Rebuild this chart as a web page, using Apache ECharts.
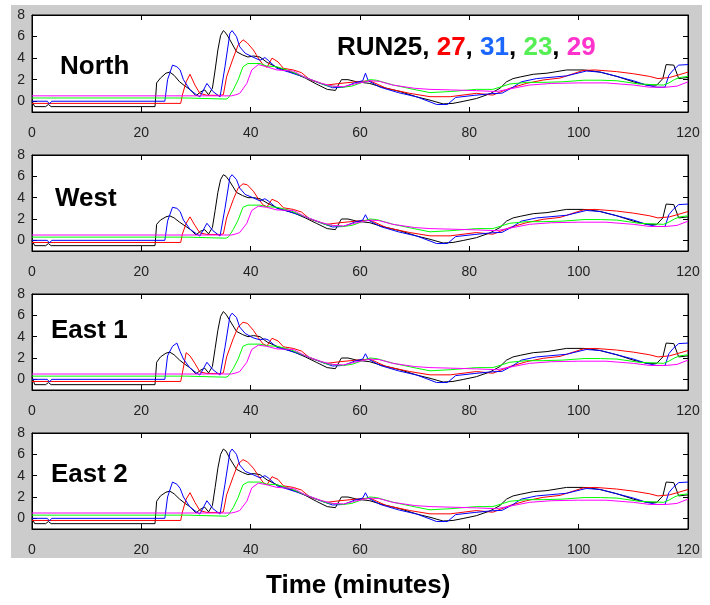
<!DOCTYPE html>
<html>
<head>
<meta charset="utf-8">
<script src="https://cdn.jsdelivr.net/npm/echarts@6/dist/echarts.min.js"></script>
<style>
  html, body { margin: 0; padding: 0; background: #fff; }
  #bg { position: absolute; left: 11px; top: 5px; width: 691px; height: 553px; background: #cccccc; }
  #chart { position: absolute; left: 0; top: 0; width: 710px; height: 605px; }
</style>
</head>
<body>
<div id="bg"></div>
<div id="chart"></div>
<script>
// run order: RUN25 (black), 27 (red), 31 (blue), 23 (green), 29 (magenta)
var runNames = ['RUN25', '27', '31', '23', '29'];
var lineColors = ['#000000', '#ff0000', '#0000ff', '#00ff00', '#ff00ff'];
var textColors = ['#000000', '#ff0000', '#1a66ff', '#55ee55', '#ff33cc'];
var panelNames = ['North', 'West', 'East 1', 'East 2'];
var yTicks = [0, 2, 4, 6, 8];

// time (minutes) of the sampled points, one list per run
var tBlack = [0, 0.5, 2.5, 3, 3.5, 22.5, 22.8, 23.5, 24.5, 25.2, 26, 27, 28, 29, 30, 30.8, 31.6, 32.3, 33, 33.5,
  34, 34.5, 35, 35.5, 36.2, 37.4, 38.5, 39.5, 40.5, 41.7, 43, 45, 48, 50, 52, 54, 55.5, 56.6, 57.8, 59.4,
  61.8, 63.7, 67.3, 70.4, 72.8, 75.2, 77, 79, 81.3, 83.8, 85.6, 86.8, 88, 89.3, 91.7, 94.2, 97.8, 100.8, 102, 103.9,
  107, 110, 112.4, 114.3, 115.4, 116, 117.4, 118.3, 120];
var tRed = [0, 27.2, 27.5, 28.2, 28.9, 29.8, 30.7, 32, 34.5, 35, 35.6, 36.8, 37.7, 38.6, 39.4, 40.5, 41.4, 42.3, 43, 43.9,
  45, 46, 47.8, 49.3, 50.9, 53.9, 56.3, 59.3, 61.8, 64.8, 69.1, 72.8, 76.5, 81.3, 84.3, 87.4, 90.5, 93.5, 96.6, 100.8,
  103, 106.9, 110, 113, 114.5, 116.6, 118, 120];
var tBlue = [0, 0.5, 2.8, 3.2, 3.6, 24.3, 24.8, 25.7, 26.5, 27.1, 27.7, 28.9, 30.1, 30.7, 32, 33.1, 34.4, 35.3, 36.2, 36.6,
  37.4, 38, 39, 40.4, 41.7, 42.6, 43.2, 44.8, 47, 50, 53, 55, 57, 59, 60.5, 61, 61.5, 63.7, 67, 70.4,
  73, 74, 76, 77.5, 81, 84, 86, 88, 89.5, 92.3, 97.8, 101.4, 104, 107, 110, 112.4, 114.3, 115.8, 116.5, 117.3,
  118.3, 120];
var tGreen = [0, 28.3, 28.4, 35.5, 35.9, 36.8, 37.7, 38.6, 39.5, 41.7, 42.9, 44.8, 47.2, 50, 53.9, 56.9, 58.5, 61.8, 63, 66.1,
  70.4, 72.8, 76.5, 81.3, 84.3, 87.4, 90.5, 93.5, 97, 101, 104, 107, 111, 115.5, 116.5, 117.5, 118.5, 120];
var tMagenta = [0, 35, 36.5, 37.3, 38, 39.3, 40.2, 41.4, 42.9, 44.8, 47.8, 50, 53, 55, 57, 59, 61.8, 63.5, 66, 70,
  72.8, 76.5, 81.3, 85, 88, 91, 95, 100, 105, 110, 113, 116, 118, 120];

// North
var northBlack = [0, -0.5, -0.5, -0.3, -0.5, -0.5, 1.7, 2.15, 2.6, 2.7, 2.4, 1.8, 1.4, 1.05, 0.5, 0.85, 1.05, 0.6, 1.2, 2.9,
  4.75, 6.1, 6.55, 6.3, 5.7, 4.6, 4.3, 4.1, 4.2, 4.1, 3.6, 3.1, 2.6, 2.15, 1.6, 1.1, 1.0, 2.0, 2.0, 1.8,
  1.65, 1.35, 0.9, 0.4, 0.1, -0.25, -0.2, 0.0, 0.25, 0.7, 1.2, 1.8, 2.1, 2.25, 2.5, 2.6, 2.9, 2.9, 2.85, 2.7,
  2.3, 1.8, 1.5, 1.5, 2.1, 3.4, 3.35, 2.1, 2.2];
var northRed = [-0.2, -0.2, 0.57, 1.8, 2.5, 1.5, 0.73, 0.55, 0.55, 0.6, 2.27, 4.0, 5.2, 5.7, 5.4, 4.75, 4.0, 3.35, 3.15, 4.0,
  3.65, 3.05, 2.9, 2.65, 1.97, 1.5, 1.65, 1.8, 1.9, 1.2, 0.73, 0.42, 0.42, 0.73, 0.57, 1.2, 1.66, 1.97, 2.15, 2.85,
  2.9, 2.75, 2.55, 2.3, 2.1, 2.2, 2.4, 2.7];
var northBlue = [0, 0, 0, -0.25, 0, 0, 2.0, 3.35, 3.2, 2.9, 2.0, 1.05, 0.6, 0.4, 1.65, 0.9, 0.4, 3.2, 6.3, 6.55,
  6.0, 5.05, 4.45, 4.1, 3.8, 4.05, 3.8, 3.05, 2.7, 2.2, 1.6, 1.25, 1.3, 1.7, 1.9, 2.6, 1.9, 1.3, 0.8, 0.4,
  -0.1, -0.3, -0.3, 0.35, 0.55, 0.7, 0.75, 1.3, 1.8, 2.1, 2.35, 2.8, 2.7, 2.3, 1.9, 1.5, 1.3, 1.3, 2.4, 2.9,
  3.35, 3.4];
var northGreen = [0.3, 0.3, 0.2, 0.2, 0.3, 1.04, 1.97, 3.2, 3.5, 3.5, 3.27, 3.2, 2.8, 2.2, 1.45, 1.3, 1.4, 2.0, 1.95, 1.5,
  1.04, 0.8, 0.9, 1.1, 1.1, 1.6, 1.75, 1.75, 1.8, 1.95, 1.95, 1.9, 1.6, 1.5, 1.7, 2.0, 2.2, 2.3];
var northMagenta = [0.5, 0.5, 0.5, 0.6, 0.73, 1.65, 2.9, 3.4, 3.2, 2.9, 2.8, 2.2, 1.65, 1.4, 1.35, 1.6, 1.9, 1.85, 1.5, 1.2,
  1.1, 1.05, 0.98, 0.9, 1.2, 1.5, 1.65, 1.7, 1.7, 1.5, 1.3, 1.3, 1.4, 1.8];

// West
var westBlack = [0, -0.5, -0.5, -0.3, -0.5, -0.5, 1.5, 1.9, 2.2, 2.3, 2.1, 1.7, 1.35, 1.0, 0.5, 0.85, 1.0, 0.6, 1.2, 2.8,
  4.5, 5.7, 6.15, 6.0, 5.5, 4.5, 4.2, 4.0, 4.0, 3.9, 3.5, 3.0, 2.55, 2.1, 1.6, 1.1, 1.0, 2.0, 2.0, 1.8,
  1.65, 1.35, 0.9, 0.4, 0.1, -0.25, -0.2, 0.0, 0.25, 0.7, 1.2, 1.8, 2.1, 2.25, 2.5, 2.6, 2.9, 2.9, 2.85, 2.7,
  2.3, 1.8, 1.5, 1.5, 2.1, 3.4, 3.35, 2.1, 2.2];
var westRed = [-0.2, -0.2, 0.57, 1.6, 2.2, 1.4, 0.7, 0.55, 0.55, 0.6, 2.1, 3.8, 4.9, 5.3, 5.2, 4.6, 3.9, 3.3, 3.15, 3.85,
  3.6, 3.05, 2.9, 2.65, 1.97, 1.5, 1.65, 1.8, 1.9, 1.2, 0.73, 0.42, 0.42, 0.73, 0.57, 1.2, 1.66, 1.97, 2.15, 2.85,
  2.9, 2.75, 2.55, 2.3, 2.1, 2.2, 2.4, 2.7];
var westBlue = [0, 0, 0, -0.25, 0, 0, 1.8, 3.1, 3.0, 2.7, 1.9, 1.05, 0.6, 0.4, 1.6, 0.9, 0.4, 3.0, 5.9, 6.15,
  5.7, 4.9, 4.3, 4.0, 3.7, 3.9, 3.7, 3.0, 2.7, 2.2, 1.6, 1.25, 1.3, 1.7, 1.9, 2.4, 1.9, 1.3, 0.8, 0.4,
  -0.1, -0.3, -0.3, 0.35, 0.55, 0.7, 0.75, 1.3, 1.8, 2.1, 2.35, 2.8, 2.7, 2.3, 1.9, 1.5, 1.3, 1.3, 2.4, 2.9,
  3.35, 3.4];
var westGreen = [0.3, 0.3, 0.2, 0.2, 0.3, 1.0, 1.9, 3.1, 3.3, 3.3, 3.15, 3.1, 2.8, 2.2, 1.45, 1.3, 1.4, 2.0, 1.95, 1.5,
  1.04, 0.8, 0.9, 1.1, 1.1, 1.6, 1.75, 1.75, 1.8, 1.95, 1.95, 1.9, 1.6, 1.5, 1.7, 2.0, 2.2, 2.3];
var westMagenta = [0.5, 0.5, 0.5, 0.6, 0.73, 1.6, 2.8, 3.2, 3.1, 2.85, 2.8, 2.2, 1.65, 1.4, 1.35, 1.6, 1.9, 1.85, 1.5, 1.2,
  1.1, 1.05, 0.98, 0.9, 1.2, 1.5, 1.65, 1.7, 1.7, 1.5, 1.3, 1.3, 1.4, 1.8];

// East 1
var east1Black = [0.25, -0.5, -0.5, -0.3, -0.5, -0.5, 1.6, 2.1, 2.45, 2.55, 2.3, 1.8, 1.4, 1.05, 0.5, 0.85, 1.05, 0.6, 1.2, 2.9,
  4.6, 5.9, 6.35, 6.1, 5.5, 4.5, 4.2, 4.0, 4.1, 4.0, 3.5, 3.05, 2.55, 2.1, 1.6, 1.1, 1.0, 2.0, 2.0, 1.8,
  1.65, 1.35, 0.9, 0.4, 0.1, -0.25, -0.2, 0.0, 0.25, 0.7, 1.2, 1.8, 2.1, 2.25, 2.5, 2.6, 2.9, 2.9, 2.85, 2.7,
  2.3, 1.8, 1.5, 1.5, 2.1, 3.4, 3.35, 2.1, 2.2];
var east1Red = [-0.2, -0.2, 0.57, 2.5, 2.2, 1.5, 0.7, 0.55, 0.55, 0.6, 2.1, 3.8, 4.9, 5.35, 5.25, 4.6, 3.9, 3.3, 3.15, 3.85,
  3.6, 3.05, 2.9, 2.65, 1.97, 1.5, 1.65, 1.8, 1.9, 1.2, 0.73, 0.42, 0.42, 0.73, 0.57, 1.2, 1.66, 1.97, 2.15, 2.85,
  2.9, 2.75, 2.55, 2.3, 2.1, 2.2, 2.4, 2.7];
var east1Blue = [0, 0, 0, -0.25, 0, 0, 2.2, 3.1, 3.4, 2.6, 1.9, 1.05, 0.6, 0.4, 1.6, 0.9, 0.4, 3.0, 5.9, 6.2,
  5.8, 4.9, 4.3, 3.9, 3.7, 3.8, 3.7, 3.0, 2.7, 2.2, 1.6, 1.25, 1.3, 1.7, 1.9, 2.4, 1.9, 1.3, 0.8, 0.4,
  -0.1, -0.3, -0.3, 0.35, 0.55, 0.7, 0.75, 1.3, 1.8, 2.1, 2.35, 2.8, 2.7, 2.3, 1.9, 1.5, 1.3, 1.3, 2.4, 2.9,
  3.35, 3.4];
var east1Green = [0.3, 0.3, 0.2, 0.2, 0.3, 1.0, 1.9, 3.1, 3.3, 3.3, 3.15, 3.1, 2.8, 2.2, 1.45, 1.3, 1.4, 2.0, 1.95, 1.5,
  1.04, 0.8, 0.9, 1.1, 1.1, 1.6, 1.75, 1.75, 1.8, 1.95, 1.95, 1.9, 1.6, 1.5, 1.7, 2.0, 2.2, 2.3];
var east1Magenta = [0.5, 0.5, 0.5, 0.6, 0.73, 1.6, 2.8, 3.2, 3.1, 2.85, 2.8, 2.2, 1.65, 1.4, 1.35, 1.6, 1.9, 1.85, 1.5, 1.2,
  1.1, 1.05, 0.98, 0.9, 1.2, 1.5, 1.65, 1.7, 1.7, 1.5, 1.3, 1.3, 1.4, 1.8];

// East 2
var east2Black = [0, -0.5, -0.5, -0.3, -0.5, -0.5, 1.6, 2.1, 2.45, 2.55, 2.3, 1.8, 1.4, 1.05, 0.5, 0.85, 1.05, 0.6, 1.2, 2.9,
  4.7, 6.0, 6.5, 6.3, 5.6, 4.6, 4.3, 4.1, 4.2, 4.1, 3.6, 3.1, 2.6, 2.15, 1.6, 1.1, 1.0, 2.0, 2.0, 1.8,
  1.65, 1.35, 0.9, 0.4, 0.1, -0.25, -0.2, 0.0, 0.25, 0.7, 1.2, 1.8, 2.1, 2.25, 2.5, 2.6, 2.9, 2.9, 2.85, 2.7,
  2.3, 1.8, 1.5, 1.5, 2.1, 3.4, 3.35, 2.1, 2.2];
var east2Red = [-0.2, -0.2, 0.57, 1.8, 2.4, 1.5, 0.73, 0.55, 0.55, 0.6, 2.2, 3.9, 5.1, 5.5, 5.3, 4.7, 4.0, 3.35, 3.15, 3.9,
  3.65, 3.05, 2.9, 2.65, 1.97, 1.5, 1.65, 1.8, 1.9, 1.2, 0.73, 0.42, 0.42, 0.73, 0.57, 1.2, 1.66, 1.97, 2.15, 2.85,
  2.9, 2.75, 2.55, 2.3, 2.1, 2.2, 2.4, 2.7];
var east2Blue = [0, 0, 0, -0.25, 0, 0, 2.0, 3.4, 3.2, 2.8, 2.0, 1.05, 0.6, 0.4, 1.65, 0.9, 0.4, 3.2, 6.2, 6.5,
  6.0, 5.0, 4.4, 4.1, 3.8, 4.0, 3.8, 3.05, 2.7, 2.2, 1.6, 1.25, 1.3, 1.7, 1.9, 2.4, 1.9, 1.3, 0.8, 0.4,
  -0.1, -0.3, -0.3, 0.35, 0.55, 0.7, 0.75, 1.3, 1.8, 2.1, 2.35, 2.8, 2.7, 2.3, 1.9, 1.5, 1.3, 1.3, 2.4, 2.9,
  3.35, 3.4];
var east2Green = [0.3, 0.3, 0.2, 0.2, 0.3, 1.0, 1.95, 3.15, 3.4, 3.4, 3.2, 3.15, 2.8, 2.2, 1.45, 1.3, 1.4, 2.0, 1.95, 1.5,
  1.04, 0.8, 0.9, 1.1, 1.1, 1.6, 1.75, 1.75, 1.8, 1.95, 1.95, 1.9, 1.6, 1.5, 1.7, 2.0, 2.2, 2.3];
var east2Magenta = [0.5, 0.5, 0.5, 0.6, 0.73, 1.6, 2.85, 3.3, 3.15, 2.9, 2.8, 2.2, 1.65, 1.4, 1.35, 1.6, 1.9, 1.85, 1.5, 1.2,
  1.1, 1.05, 0.98, 0.9, 1.2, 1.5, 1.65, 1.7, 1.7, 1.5, 1.3, 1.3, 1.4, 1.8];

var times = [tBlack, tRed, tBlue, tGreen, tMagenta];
var panelData = [
  [northBlack, northRed, northBlue, northGreen, northMagenta],
  [westBlack, westRed, westBlue, westGreen, westMagenta],
  [east1Black, east1Red, east1Blue, east1Green, east1Magenta],
  [east2Black, east2Red, east2Blue, east2Green, east2Magenta]
];

var FONT = "'Liberation Sans', Arial, Helvetica, sans-serif";
var gridTops = [15, 155, 294, 433];
var gridHeights = [97, 96, 96, 96];
var labelTops = [54, 186, 318, 462];
var labelLefts = [60, 55, 51, 51];

var chart = echarts.init(document.getElementById('chart'), null, { renderer: 'canvas' });

var grids = [], xAxes = [], yAxes = [], series = [], titles = [];
var tickStyle = { show: true, inside: true, length: 5, lineStyle: { color: '#000', width: 1 } };
var axLine = { show: true, onZero: false, lineStyle: { color: '#000', width: 1 } };

for (var p = 0; p < 4; p++) {
  grids.push({
    left: 32, right: 22, top: gridTops[p], height: gridHeights[p],
    show: true, backgroundColor: '#ffffff', borderColor: '#000', borderWidth: 1
  });
  // bottom x axis with labels
  xAxes.push({
    type: 'value', gridIndex: p, position: 'bottom', min: 0, max: 120, interval: 20,
    axisLine: axLine, axisTick: tickStyle, splitLine: { show: false },
    axisLabel: { show: true, margin: 14, color: '#222', fontSize: 14, fontFamily: FONT }
  });
  // top x axis, ticks only
  xAxes.push({
    type: 'value', gridIndex: p, position: 'top', min: 0, max: 120, interval: 20,
    axisLine: axLine, axisTick: tickStyle, splitLine: { show: false },
    axisLabel: { show: false }
  });
  yAxes.push({
    type: 'value', gridIndex: p, position: 'left', min: -1, max: 8,
    axisLine: axLine,
    axisTick: Object.assign({ customValues: yTicks }, tickStyle),
    splitLine: { show: false },
    axisLabel: { show: true, customValues: yTicks, margin: 7, color: '#222', fontSize: 14, fontFamily: FONT }
  });
  yAxes.push({
    type: 'value', gridIndex: p, position: 'right', min: -1, max: 8,
    axisLine: axLine,
    axisTick: Object.assign({ customValues: yTicks }, tickStyle),
    splitLine: { show: false }, axisLabel: { show: false }
  });
  for (var s = 0; s < 5; s++) {
    var vals = panelData[p][s];
    var pts = [];
    for (var k = 0; k < vals.length; k++) pts.push([times[s][k], vals[k]]);
    series.push({
      type: 'line', name: runNames[s], xAxisIndex: 2 * p, yAxisIndex: 2 * p,
      data: pts, showSymbol: false, symbol: 'none', silent: true, animation: false,
      lineStyle: { color: lineColors[s], width: 1 }, clip: true
    });
  }
  titles.push({
    text: panelNames[p], left: labelLefts[p], top: labelTops[p], padding: 0,
    textStyle: { fontFamily: FONT, fontWeight: 'bold', fontSize: 26, color: '#000' }
  });
}

// run legend as coloured text
var richBase = { fontFamily: FONT, fontWeight: 'bold', fontSize: 26 };
titles.push({
  text: '{k|' + runNames[0] + '}{c|, }{r|' + runNames[1] + '}{c|, }{b|' + runNames[2] + '}{c|, }{g|' +
        runNames[3] + '}{c|, }{m|' + runNames[4] + '}',
  left: 337, top: 35, padding: 0,
  textStyle: {
    fontFamily: FONT, fontWeight: 'bold', fontSize: 26,
    rich: {
      k: Object.assign({ color: textColors[0] }, richBase),
      c: Object.assign({ color: '#000' }, richBase),
      r: Object.assign({ color: textColors[1] }, richBase),
      b: Object.assign({ color: textColors[2] }, richBase),
      g: Object.assign({ color: textColors[3] }, richBase),
      m: Object.assign({ color: textColors[4] }, richBase)
    }
  }
});
titles.push({
  text: 'Time (minutes)', left: 266, top: 573, padding: 0,
  textStyle: { fontFamily: FONT, fontWeight: 'bold', fontSize: 26, color: '#000' }
});

chart.setOption({
  backgroundColor: 'transparent',
  animation: false,
  title: titles,
  grid: grids,
  xAxis: xAxes,
  yAxis: yAxes,
  series: series
});
</script>
</body>
</html>
